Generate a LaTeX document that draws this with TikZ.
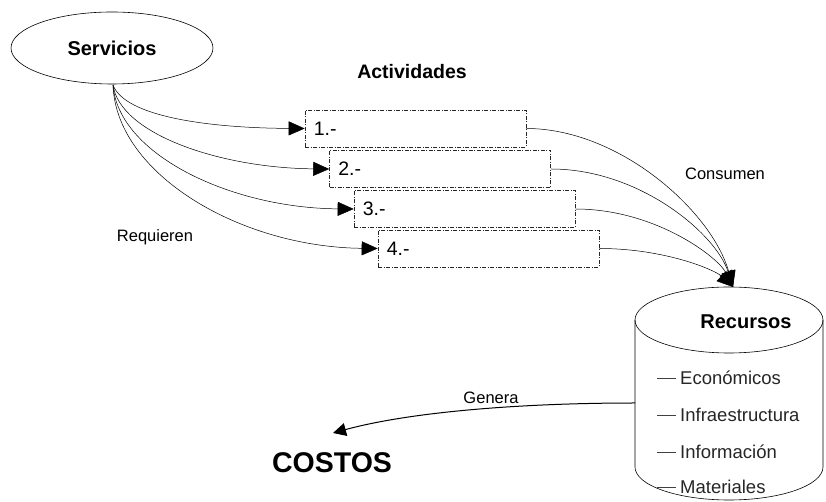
\documentclass[tikz,border=0pt]{standalone}
\usepackage{fontspec}
\setmainfont{Liberation Sans}
\usetikzlibrary{shapes.geometric,arrows.meta}
\begin{document}
\begin{tikzpicture}[x=1pt,y=1pt,
  actbox/.style={draw=black!85, line width=0.6pt, dash pattern=on 4pt off 1.5pt on 1pt off 1.5pt,
    minimum width=221pt, minimum height=37pt, inner sep=0pt},
  boxlbl/.style={font=\fontsize{19.5}{22}\selectfont, anchor=west, inner sep=0pt},
  smalllbl/.style={font=\fontsize{16.5}{19}\selectfont, inner sep=0pt},
  itemlbl/.style={font=\fontsize{18.5}{21}\selectfont, anchor=west, inner sep=0pt, text=black!85},
  bigarrow/.style={-{Triangle[length=16pt,width=14pt]}, line width=0.5pt},
  conn/.style={line width=0.5pt}
]
\useasboundingbox (0,0) rectangle (826,502);

% Servicios
\node[draw, ellipse, line width=0.6pt, minimum width=202pt, minimum height=72pt, inner sep=0pt,
  font=\bfseries\fontsize{20}{24}\selectfont] (serv) at (112,454) {Servicios};
\node[font=\bfseries\fontsize{19.5}{23}\selectfont] (act) at (412,430) {Actividades};

% Activity boxes
\node[actbox] (b1) at (415.5,373.5) {};
\node[actbox] (b2) at (440,333) {};
\node[actbox] (b3) at (464.5,293) {};
\node[actbox] (b4) at (488.5,253.5) {};
\node[boxlbl] (l1) at ([xshift=9pt]b1.west) {1.-};
\node[boxlbl] (l2) at ([xshift=9pt]b2.west) {2.-};
\node[boxlbl] (l3) at ([xshift=9pt]b3.west) {3.-};
\node[boxlbl] (l4) at ([xshift=9pt]b4.west) {4.-};

\coordinate (sb) at (113,417);
\draw[bigarrow] (sb) .. controls (125,385) and (210,374) .. (b1.west);
\draw[bigarrow] (sb) .. controls (120,368) and (220,334) .. (b2.west);
\draw[bigarrow] (sb) .. controls (118,348) and (230,294) .. (b3.west);
\draw[bigarrow] (sb) .. controls (116,328) and (240,255) .. (b4.west);

\node[smalllbl] (req) at (155,265) {Requieren};
\node[smalllbl] (cons) at (725,328) {Consumen};

% Recursos cylinder
\coordinate (rtop) at (733,215);
\draw[line width=0.6pt] (729,182) ellipse [x radius=94, y radius=33];
\draw[line width=0.6pt] (635,182) -- (635,35) arc[start angle=180, end angle=360, x radius=94, y radius=33] -- (823,182);
\node[font=\bfseries\fontsize{20}{24}\selectfont] (rec) at (746,180) {Recursos};

\draw[bigarrow] (b1.east) .. controls (620,373.5) and (712,290) .. (rtop);
\draw[bigarrow] (b2.east) .. controls (640,333) and (716,268) .. (rtop);
\draw[bigarrow] (b3.east) .. controls (655,293) and (718,245) .. (rtop);
\draw[bigarrow] (b4.east) .. controls (665,253.5) and (715,232) .. (rtop);

% items
\foreach \n/\t/\yy in {e/Económicos/124, f/Infraestructura/87, i/Información/50, m/Materiales/15}{
  \coordinate (d\n) at (657,\yy);
  \draw[line width=0.9pt, black!75] (d\n) -- ++(19,0);
  \node[itemlbl] (t\n) at (680,\yy) {\t};
}

% Genera
\coordinate (gs) at (635,99);
\node[font=\bfseries\fontsize{28.5}{32}\selectfont] (cost) at (332,39) {COSTOS};
\coordinate (gt) at (333,69);
\draw[-{Triangle[length=13pt,width=13pt]}, line width=1pt] (gs) .. controls (520,99) and (410,90) .. (gt);
\node[smalllbl] (gen) at (491,104) {Genera};
\end{tikzpicture}
\end{document}
